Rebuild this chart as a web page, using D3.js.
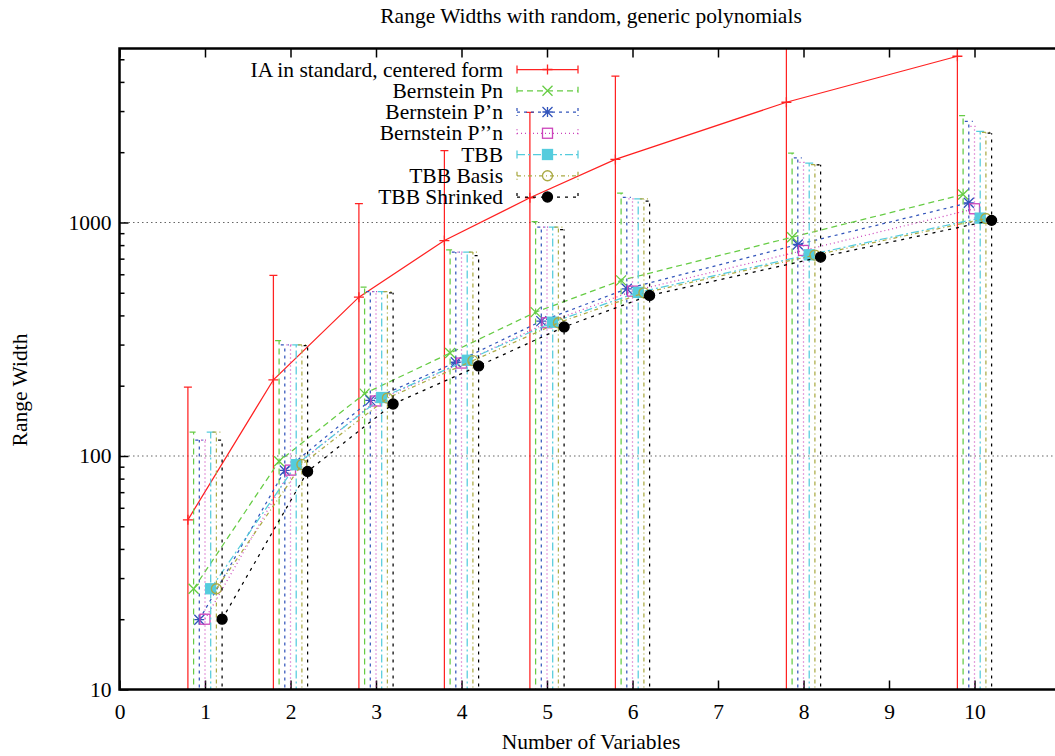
<!DOCTYPE html>
<html>
<head>
<meta charset="utf-8">
<script src="https://cdn.jsdelivr.net/npm/d3@7"></script>
<style>
  body { margin: 0; background: #fff; }
  text { font-family: "Liberation Serif", "Times New Roman", serif; fill: #000; }
</style>
</head>
<body>
<svg id="chart" width="1055" height="756"></svg>
<script>
// number of variables (x) and the values
var nVars = [1, 2, 3, 4, 5, 6, 8, 10];
var seriesNames = ["IA in standard, centered form", "Bernstein Pn", "Bernstein P\u2019n",
  "Bernstein P\u2019\u2019n", "TBB", "TBB Basis", "TBB Shrinked"];

var iaValues = [53.3, 212, 479, 837, 1276, 1862, 3273, 5150];
var iaHigh = [197, 593, 1203, 2031, 2965, 4237, 9000, 15000];
var pnValues = [27, 95, 185, 276, 413, 565, 865, 1318];
var pnHigh = [126.5, 312, 528, 764, 1009, 1335, 1982, 2871];
var p1Values = [19.9, 86.7, 173, 252, 378, 520, 805, 1214];
var p1High = [117, 299, 506, 747, 955, 1282, 1893, 2709];
var p2Values = [20, 87, 172, 250, 372, 508, 759, 1145];
var p2High = [117, 299, 506, 747, 955, 1262, 1811, 2578];
var tbbValues = [27, 91.8, 178, 257, 374, 502, 727, 1044];
var tbbHigh = [126.5, 299, 506, 747, 955, 1262, 1795, 2454];
var basisValues = [27, 92, 177, 256, 372, 500, 725, 1040];
var basisHigh = [126.5, 299, 506, 747, 955, 1262, 1770, 2430];
var shrinkValues = [20, 85.9, 167, 243, 357, 487, 711, 1021];
var shrinkHigh = [117, 297, 500, 722, 933, 1233, 1765, 2412];

var xTicks = [0, 1, 2, 3, 4, 5, 6, 7, 8, 9, 10];
var yTicks = [10, 100, 1000];

var allValues = [iaValues, pnValues, p1Values, p2Values, tbbValues, basisValues, shrinkValues];
var allHigh = [iaHigh, pnHigh, p1High, p2High, tbbHigh, basisHigh, shrinkHigh];

// styles
var colors = ["#f22", "#6c4", "#35b", "#c4b", "#5cd", "#aa4", "#000"];
var dashes = [null, "6,4", "3,4", "1,3", "8,3,2,3", "4,3,1,3", "3,5"];
var markers = ["plus", "cross", "star", "square", "fsquare", "circle", "fcircle"];
var lw = 1.25;

var svg = d3.select("#chart");
var pLeft = 119.5, pRight = 1060, pTop = 48.5, pBottom = 689.5;
var fontSize = "21.5px";

var x = d3.scaleLinear().domain([0, 11]).range([pLeft, pRight]);
var y = d3.scaleLog().domain([10, 5560]).range([pBottom, pTop]);

svg.append("clipPath").attr("id", "plotclip")
  .append("rect").attr("x", pLeft).attr("y", pTop).attr("width", pRight - pLeft).attr("height", pBottom - pTop);

// grid at major y ticks
svg.selectAll(".grid").data([100, 1000]).enter().append("line")
  .attr("x1", pLeft).attr("x2", pRight)
  .attr("y1", function(d) { return y(d); }).attr("y2", function(d) { return y(d); })
  .attr("stroke", "#666").attr("stroke-width", 1.2).attr("stroke-dasharray", "1.5,3");

// axes
var xAxis = svg.append("g").attr("transform", "translate(0," + pBottom + ")")
  .call(d3.axisBottom(x).tickValues(xTicks).tickSize(-9).tickPadding(14).tickFormat(d3.format("d")));
var xTop = svg.append("g").attr("transform", "translate(0," + pTop + ")")
  .call(d3.axisTop(x).tickValues(xTicks).tickSize(-9).tickFormat(""));
var yAxis = svg.append("g").attr("transform", "translate(" + pLeft + ",0)")
  .call(d3.axisLeft(y).tickValues(yTicks).tickSize(-9).tickPadding(8).tickFormat(d3.format("d")));
var minors = [];
[10, 100, 1000].forEach(function(dec) {
  for (var k = 2; k <= 9; k++) if (dec * k < 5560) minors.push(dec * k);
});
var yMinor = svg.append("g").attr("transform", "translate(" + pLeft + ",0)")
  .call(d3.axisLeft(y).tickValues(minors).tickSize(-5).tickFormat(""));

[xAxis, xTop, yAxis, yMinor].forEach(function(g) {
  g.select(".domain").remove();
  g.selectAll("line").attr("stroke", "#000").attr("stroke-width", 1.5);
  g.selectAll("text").style("font-size", fontSize).style("font-family", "'Liberation Serif', serif");
});

var plot = svg.append("g").attr("clip-path", "url(#plotclip)");

function offset(i) { return -0.2 + i * 0.2 / 3; }

function drawMarker(g, type, cx, cy, color) {
  var s = 5;
  if (type == "plus") {
    g.append("path").attr("d", "M" + (cx - s) + "," + cy + "H" + (cx + s) + "M" + cx + "," + (cy - s) + "V" + (cy + s))
      .attr("stroke", color).attr("stroke-width", 1.3).attr("fill", "none");
  } else if (type == "cross") {
    g.append("path").attr("d", "M" + (cx - s) + "," + (cy - s) + "L" + (cx + s) + "," + (cy + s) + "M" + (cx - s) + "," + (cy + s) + "L" + (cx + s) + "," + (cy - s))
      .attr("stroke", color).attr("stroke-width", 1.3).attr("fill", "none");
  } else if (type == "star") {
    g.append("path").attr("d", "M" + (cx - s) + "," + (cy - s) + "L" + (cx + s) + "," + (cy + s) + "M" + (cx - s) + "," + (cy + s) + "L" + (cx + s) + "," + (cy - s) +
        "M" + (cx - s) + "," + cy + "H" + (cx + s) + "M" + cx + "," + (cy - s) + "V" + (cy + s))
      .attr("stroke", color).attr("stroke-width", 1.3).attr("fill", "none");
  } else if (type == "square" || type == "fsquare") {
    g.append("rect").attr("x", cx - s).attr("y", cy - s).attr("width", 2 * s).attr("height", 2 * s)
      .attr("stroke", color).attr("stroke-width", 1.3).attr("fill", type == "fsquare" ? color : "none");
  } else {
    g.append("circle").attr("cx", cx).attr("cy", cy).attr("r", s)
      .attr("stroke", color).attr("stroke-width", 1.3).attr("fill", type == "fcircle" ? color : "none");
  }
}

allValues.forEach(function(vals, i) {
  var pts = nVars.map(function(n, j) { return { x: n + offset(i), v: vals[j], hi: allHigh[i][j] }; });
  var g = plot.append("g");
  // error bars from below the axis up to the high value
  pts.forEach(function(p) {
    var px = x(p.x), py = y(p.hi);
    g.append("path").attr("d", "M" + px + "," + (pBottom + 5) + "V" + py + "M" + (px - 4) + "," + py + "H" + (px + 4))
      .attr("stroke", colors[i]).attr("stroke-width", lw).attr("fill", "none")
      .attr("stroke-dasharray", dashes[i]);
  });
  g.append("path").datum(pts)
    .attr("d", d3.line().x(function(p) { return x(p.x); }).y(function(p) { return y(p.v); }))
    .attr("stroke", colors[i]).attr("stroke-width", lw).attr("fill", "none")
    .attr("stroke-dasharray", dashes[i]);
  pts.forEach(function(p) { drawMarker(g, markers[i], x(p.x), y(p.v), colors[i]); });
});

// legend
var legend = svg.append("g");
seriesNames.forEach(function(name, i) {
  var ly = 69.5 + i * 21.25;
  legend.append("text").attr("x", 503).attr("y", ly).attr("dy", "0.33em")
    .attr("text-anchor", "end").style("font-size", fontSize).text(name);
  legend.append("path").attr("d", "M517," + ly + "H578M517," + (ly - 4) + "V" + (ly + 4) + "M578," + (ly - 4) + "V" + (ly + 4))
    .attr("stroke", colors[i]).attr("stroke-width", lw).attr("fill", "none")
    .attr("stroke-dasharray", dashes[i]);
  drawMarker(legend, markers[i], 547.5, ly, colors[i]);
});

// border
svg.append("rect").attr("x", pLeft).attr("y", pTop).attr("width", pRight - pLeft).attr("height", pBottom - pTop)
  .attr("fill", "none").attr("stroke", "#000").attr("stroke-width", 2.5);

// titles
svg.append("text").attr("x", 591).attr("y", 23).attr("text-anchor", "middle")
  .style("font-size", fontSize).text("Range Widths with random, generic polynomials");
svg.append("text").attr("x", 591).attr("y", 749).attr("text-anchor", "middle")
  .style("font-size", fontSize).text("Number of Variables");
svg.append("text").attr("transform", "translate(27,390) rotate(-90)").attr("text-anchor", "middle")
  .style("font-size", fontSize).text("Range Width");
</script>
</body>
</html>
